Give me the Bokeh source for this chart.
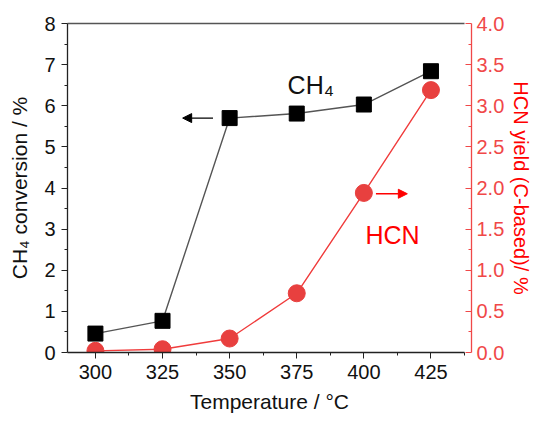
from bokeh.plotting import figure
from bokeh.models import Range1d, LinearAxis, FixedTicker, NumeralTickFormatter, Arrow, NormalHead, ColumnDataSource
from bokeh.core.properties import value
from bokeh.embed import file_html
from bokeh.resources import INLINE

# ---- data ----
temps = [300, 325, 350, 375, 400, 425]
ch4_conversion = [0.46, 0.77, 5.70, 5.81, 6.03, 6.84]
hcn_yield = [0.02, 0.04, 0.17, 0.72, 1.94, 3.19]

x_major = [300, 325, 350, 375, 400, 425]
x_minor = [312.5, 337.5, 362.5, 387.5, 412.5, 437.5]
yl_major = [0, 1, 2, 3, 4, 5, 6, 7, 8]
yl_minor = [0.5, 1.5, 2.5, 3.5, 4.5, 5.5, 6.5, 7.5]
yr_major = [0.0, 0.5, 1.0, 1.5, 2.0, 2.5, 3.0, 3.5, 4.0]
yr_minor = [0.25, 0.75, 1.25, 1.75, 2.25, 2.75, 3.25, 3.75]

FONT = "Liberation Sans"
RED_AX = "#f04848"
RED = "#ff0000"
RED_MK = "#e8403f"
RED_LN = "#f03c3c"

p = figure(width=535, height=415, output_backend="svg", toolbar_location=None,
           x_range=Range1d(289.6, 440.1), y_range=Range1d(0, 8),
           min_border_left=67, min_border_right=56, min_border_top=23, min_border_bottom=63)
p.extra_y_ranges = {"hcn": Range1d(0, 4)}
p.outline_line_color = None
p.xgrid.visible = False
p.ygrid.visible = False
p.background_fill_color = "white"
p.border_fill_color = "white"

# bottom axis
xa = p.xaxis[0]
xa.ticker = FixedTicker(ticks=x_major, minor_ticks=x_minor)
xa.bounds = (289.6, 437.5)
xa.axis_label = "Temperature / °C"
# left axis
ya = p.yaxis[0]
ya.ticker = FixedTicker(ticks=yl_major, minor_ticks=yl_minor)
ya.axis_label = "CH₄ conversion / %"

for ax in (xa, ya):
    ax.axis_line_color = "#222222"
    ax.axis_line_width = 1.3
    ax.major_tick_line_color = "#222222"
    ax.minor_tick_line_color = "#222222"
    ax.major_tick_out = 6
    ax.major_tick_in = 0
    ax.minor_tick_out = 3
    ax.minor_tick_in = 0
    ax.major_label_text_font = FONT
    ax.major_label_text_font_size = "20px"
    ax.major_label_text_color = "#111111"
    ax.axis_label_text_font = FONT
    ax.axis_label_text_font_size = "21px"
    ax.axis_label_text_font_style = "normal"
    ax.axis_label_text_color = "#111111"

xa.major_label_standoff = 6
xa.axis_label_standoff = 8
ya.major_label_standoff = 6
ya.axis_label_standoff = 10

# top frame line
top = LinearAxis(ticker=FixedTicker(ticks=[]), bounds=(289.6, 437.5),
                 major_label_text_font_size="0px", major_tick_out=0, major_tick_in=0,
                 minor_tick_out=0, minor_tick_in=0, axis_line_color="#555555",
                 axis_line_width=1.3, major_label_standoff=0)
p.add_layout(top, "above")

# right axis
ra = LinearAxis(y_range_name="hcn", ticker=FixedTicker(ticks=yr_major, minor_ticks=yr_minor),
                formatter=NumeralTickFormatter(format="0.0"))
ra.axis_label = "HCN yield (C-based)/ %"
ra.axis_line_color = RED_AX
ra.axis_line_width = 1.3
ra.major_tick_line_color = RED_AX
ra.minor_tick_line_color = RED_AX
ra.major_tick_in = 6
ra.major_tick_out = 0
ra.minor_tick_in = 3
ra.minor_tick_out = 0
ra.major_label_text_font = FONT
ra.major_label_text_font_size = "20px"
ra.major_label_text_color = RED_AX
ra.major_label_standoff = 5
ra.axis_label_text_font = FONT
ra.axis_label_text_font_size = "20px"
ra.axis_label_text_font_style = "normal"
ra.axis_label_text_color = RED
ra.axis_label_standoff = 3
p.add_layout(ra, "right")

# series
src = ColumnDataSource(dict(t=temps, ch4=ch4_conversion, hcn=hcn_yield))
p.line("t", "ch4", source=src, line_color="#555555", line_width=1.4)
p.scatter("t", "ch4", source=src, marker="square", size=15, fill_color="black", line_color="black")
p.line("t", "hcn", source=src, y_range_name="hcn", line_color=RED_LN, line_width=1.4)
p.scatter("t", "hcn", source=src, y_range_name="hcn", marker="circle", size=17,
          fill_color=RED_MK, line_color=RED_MK)

# annotations
p.add_layout(Arrow(end=NormalHead(size=9, fill_color="black", line_color="black", line_width=1),
                   x_start=343.8, y_start=5.70, x_end=332.5, y_end=5.70,
                   line_color="black", line_width=1.3))
p.add_layout(Arrow(end=NormalHead(size=9, fill_color=RED, line_color=RED, line_width=1),
                   x_start=404.5, y_start=1.93, x_end=416.2, y_end=1.93,
                   y_range_name="hcn", line_color=RED, line_width=1.3))

p.text(x=[371.6], y=[6.51], text=["CH₄"], text_font=value(FONT), text_font_size="25px",
       text_color="#111111", text_align="left", text_baseline="alphabetic")
p.text(x=[400.6], y=[2.85], text=["HCN"], text_font=value(FONT), text_font_size="25px",
       text_color=RED, text_align="left", text_baseline="alphabetic")

open("out.html", "w").write(file_html(p, INLINE))
